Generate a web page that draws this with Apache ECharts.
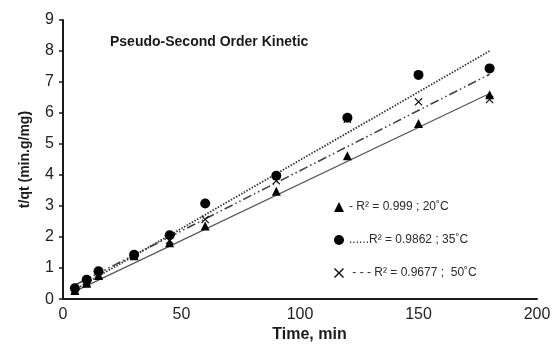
<!DOCTYPE html>
<html>
<head>
<meta charset="utf-8">
<script src="https://cdn.jsdelivr.net/npm/echarts@6/dist/echarts.min.js"></script>
<style>html,body{margin:0;padding:0;background:#fff}#c{width:554px;height:348px}</style>
</head>
<body>
<div id="c"></div>
<script>
const time = [5, 10, 15, 30, 45, 60, 90, 120, 150, 180];
const t20 = [0.28, 0.51, 0.76, 1.40, 1.82, 2.36, 3.48, 4.62, 5.66, 6.59];
const t35 = [0.35, 0.62, 0.90, 1.43, 2.06, 3.08, 3.98, 5.85, 7.23, 7.44];
const t50 = [0.30, 0.55, 0.80, 1.40, 1.90, 2.57, 3.82, 5.80, 6.36, 6.44];
// trend line endpoints [x, y]
const fit20 = [[5, 0.25], [180, 6.63]];
const fit35 = [[5, 0.30], [180, 8.00]];
const fit50 = [[5, 0.45], [180, 7.25]];
const names = ['- R\u00b2 = 0.999 ; 20\u02daC', '......R\u00b2 = 0.9862 ; 35\u02daC', ' - - - R\u00b2 = 0.9677 ;  50\u02daC'];
const xTicks = [0, 50, 100, 150, 200];
const yTicks = [0, 1, 2, 3, 4, 5, 6, 7, 8, 9];

const crossPath = 'path://M1,0 L5,4 L9,0 L10,1 L6,5 L10,9 L9,10 L5,6 L1,10 L0,9 L4,5 L0,1 Z';
const pairs = (xs, ys) => xs.map((x, i) => [x, ys[i]]);
const font = 'Liberation Sans, Arial, sans-serif';

const chart = echarts.init(document.getElementById('c'), null, {renderer: 'canvas'});
chart.setOption({
  animation: false,
  backgroundColor: '#fff',
  title: {
    text: 'Pseudo-Second Order Kinetic',
    left: 110, top: 35, padding: 0,
    textStyle: {fontFamily: font, fontSize: 14, fontWeight: 'bold', color: '#1a1a1a'}
  },
  grid: {left: 63, right: 17, top: 20, bottom: 46, containLabel: false},
  legend: {
    orient: 'vertical', left: 329, top: 195,
    itemWidth: 10, itemHeight: 10, itemGap: 19, itemTextGap: 1,
    data: [
      {name: names[0], icon: 'triangle'},
      {name: names[1], icon: 'circle'},
      {name: names[2], icon: crossPath}
    ],
    textStyle: {fontFamily: font, fontSize: 12, color: '#2a2a2a', lineHeight: 14}
  },
  xAxis: {
    type: 'value', min: xTicks[0], max: xTicks[xTicks.length - 1], interval: 50,
    name: 'Time, min', nameLocation: 'middle', nameGap: 22,
    nameTextStyle: {fontFamily: font, fontSize: 16, fontWeight: 'bold', color: '#1a1a1a', padding: [0, 0, 0, 19]},
    axisLine: {lineStyle: {color: '#1a1a1a', width: 2}},
    axisTick: {show: false},
    splitLine: {show: false},
    axisLabel: {fontFamily: font, fontSize: 16, color: '#222', margin: 7}
  },
  yAxis: {
    type: 'value', min: yTicks[0], max: yTicks[yTicks.length - 1], interval: 1,
    name: 't/qt (min.g/mg)', nameLocation: 'middle', nameGap: 31,
    nameTextStyle: {fontFamily: font, fontSize: 14, fontWeight: 'bold', color: '#1a1a1a'},
    axisLine: {lineStyle: {color: '#1a1a1a', width: 2}},
    axisTick: {show: true, length: 4, inside: false, lineStyle: {color: '#1a1a1a', width: 1.5}},
    splitLine: {show: false},
    axisLabel: {fontFamily: font, fontSize: 16, color: '#222', margin: 9}
  },
  series: [
    {type: 'line', name: 'fit20', data: fit20, symbol: 'none', lineStyle: {color: '#555', width: 1.2, type: 'solid'}, z: 1},
    {type: 'line', name: 'fit35', data: fit35, symbol: 'none', lineStyle: {color: '#333', width: 1.8, type: [1.5, 1.5]}, z: 1},
    {type: 'line', name: 'fit50', data: fit50, symbol: 'none', lineStyle: {color: '#444', width: 1.6, type: [9, 3, 1.5, 3, 1.5, 3]}, z: 1},
    {type: 'scatter', name: names[0], data: pairs(time, t20), symbol: 'triangle', symbolSize: 9, itemStyle: {color: '#000', opacity: 1}, z: 3},
    {type: 'scatter', name: names[1], data: pairs(time, t35), symbol: 'circle', symbolSize: 10, itemStyle: {color: '#000', opacity: 1}, z: 3},
    {type: 'scatter', name: names[2], data: pairs(time, t50), symbol: crossPath, symbolSize: 8, itemStyle: {color: '#111', opacity: 1}, z: 2}
  ]
});
</script>
</body>
</html>
